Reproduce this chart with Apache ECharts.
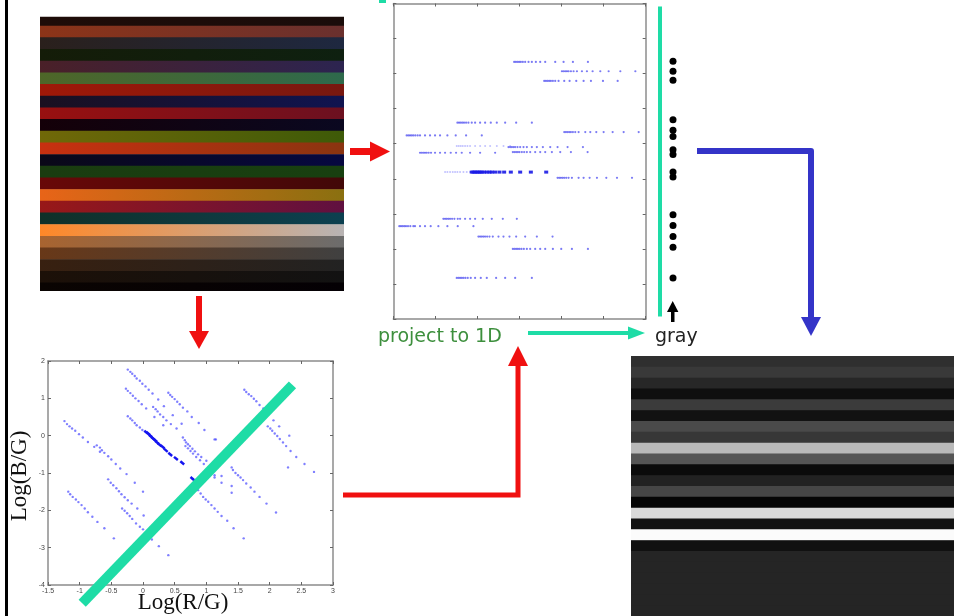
<!DOCTYPE html>
<html>
<head>
<meta charset="utf-8">
<title>Log chromaticity projection to gray</title>
<script src="https://cdn.jsdelivr.net/npm/echarts@6.0.0/dist/echarts.min.js"></script>
<style>
  html, body { margin: 0; padding: 0; background: #fff; }
  #chart { width: 954px; height: 616px; }
</style>
</head>
<body>
<div id="chart"></div>
<script>
  // colour test image: one stripe per row, left edge and right edge colour
  var stripeLeft = ['#1e0c08', '#8c3418', '#2a201c', '#141c08', '#4a2028', '#4e6628', '#a01808', '#1a1020',
    '#981010', '#140008', '#706808', '#c83010', '#0a0818', '#1a3c10', '#680808', '#e86418',
    '#981818', '#103028', '#ff8828', '#a86430', '#683818', '#382010', '#1c1008', '#0a0402'];
  var stripeRight = ['#1a0c0a', '#6a302e', '#1e2840', '#0e2010', '#2c2450', '#2e6a4c', '#781810', '#101450',
    '#6c1020', '#0a0820', '#3e5a08', '#8a3410', '#060840', '#184010', '#420808', '#8a7010',
    '#601040', '#0c4050', '#b8b4b4', '#6c6c6c', '#404040', '#222222', '#121212', '#040004'];

  // resulting gray image
  var grayLevels = ['#2f2f2f', '#393939', '#272727', '#0f0f0f', '#3b3b3b', '#121212', '#4a4a4a', '#373737',
    '#b9b9b9', '#555555', '#0b0b0b', '#222222', '#464646', '#060606', '#d9d9d9', '#121212',
    '#fbfbfb', '#111111', '#252525', '#252525', '#252525', '#252525', '#252525', '#252525'];

  // log(R/G), log(B/G) points
  var logPoints = [
    [-1.24, 0.39], [-1.20, 0.31], [-1.16, 0.25], [-1.12, 0.19], [-1.07, 0.13], [-1.01, 0.04], [-0.95, -0.05], [-0.87, -0.17], [-0.77, -0.30], [-0.68, -0.43],
    [-0.73, -0.26], [-0.68, -0.32], [-0.65, -0.39], [-0.61, -0.46], [-0.55, -0.55], [-0.50, -0.64], [-0.43, -0.76], [-0.36, -0.88], [-0.26, -1.03], [-0.13, -1.26],
    [-0.55, -1.17], [-0.51, -1.26], [-0.47, -1.33], [-0.42, -1.41], [-0.38, -1.49], [-0.34, -1.57], [-0.29, -1.65], [-0.24, -1.73], [-0.18, -1.82], [-0.09, -1.95], [0.01, -2.14],
    [-1.18, -1.50], [-1.15, -1.57], [-1.11, -1.64], [-1.06, -1.71], [-1.02, -1.78], [-0.97, -1.86], [-0.92, -1.95], [-0.87, -2.05], [-0.80, -2.17], [-0.72, -2.31], [-0.61, -2.48], [-0.46, -2.75],
    [-0.33, -1.95], [-0.29, -2.01], [-0.25, -2.08], [-0.21, -2.15], [-0.17, -2.23], [-0.11, -2.35], [-0.05, -2.44], [0.00, -2.51], [0.14, -2.78], [0.25, -2.96], [0.40, -3.20],
    [0.00, -1.50],
    [-0.24, 1.77], [-0.20, 1.71], [-0.17, 1.66], [-0.13, 1.60], [-0.10, 1.53], [-0.05, 1.47], [-0.01, 1.39], [0.04, 1.32], [0.09, 1.23], [0.15, 1.13], [0.24, 0.97], [0.33, 0.79], [0.47, 0.55], [0.61, 0.32],
    [-0.27, 1.26], [-0.24, 1.20], [-0.20, 1.14], [-0.16, 1.07], [-0.12, 1.00], [-0.07, 0.93], [-0.02, 0.84], [0.05, 0.73], [0.18, 0.50], [0.32, 0.28],
    [0.40, 1.15], [0.43, 1.09], [0.46, 1.04], [0.50, 0.98], [0.54, 0.91], [0.58, 0.84], [0.63, 0.75], [0.70, 0.65], [0.77, 0.50], [0.88, 0.34], [0.97, 0.15], [1.13, -0.10],
    [0.16, 0.77], [0.20, 0.71], [0.23, 0.65], [0.27, 0.57], [0.32, 0.50], [0.37, 0.41], [0.44, 0.31], [0.53, 0.19],
    [-0.24, 0.52], [-0.20, 0.46], [-0.17, 0.41], [-0.13, 0.34], [-0.10, 0.28], [-0.05, 0.22], [-0.01, 0.15],
    [0.63, -0.05], [0.66, -0.12], [0.68, -0.18], [0.71, -0.23], [0.74, -0.28], [0.78, -0.35], [0.82, -0.42], [0.87, -0.50], [0.92, -0.57], [1.00, -0.67], [1.08, -0.82],
    [0.67, -0.28], [0.71, -0.34], [0.75, -0.41], [0.79, -0.48], [0.84, -0.57], [0.90, -0.66], [0.96, -0.76], [1.04, -0.91], [1.13, -1.06],
    [1.60, 1.23], [1.63, 1.17], [1.67, 1.11], [1.71, 1.06], [1.75, 0.99], [1.79, 0.92], [1.84, 0.82], [1.90, 0.73], [1.97, 0.57], [2.06, 0.41],
    [1.97, 0.25], [2.01, 0.19], [2.04, 0.13], [2.08, 0.06], [2.12, -0.01], [2.16, -0.09], [2.21, -0.18], [2.26, -0.28], [2.33, -0.41], [2.42, -0.57], [2.55, -0.76], [2.70, -0.97],
    [2.15, 0.25], [2.31, 0.00], [2.29, -0.85],
    [1.40, -0.85], [1.42, -0.92], [1.46, -1.00], [1.50, -1.06], [1.54, -1.12], [1.58, -1.19], [1.63, -1.28], [1.70, -1.39], [1.76, -1.50], [1.84, -1.64], [1.95, -1.82], [2.10, -2.06],
    [0.79, -1.17], [0.84, -1.33], [0.87, -1.46], [0.91, -1.55], [0.95, -1.64], [0.99, -1.71], [1.03, -1.77], [1.08, -1.86], [1.13, -1.95], [1.18, -2.04], [1.24, -2.15], [1.33, -2.28], [1.43, -2.48], [1.59, -2.75],
    [1.13, -1.12], [1.24, -1.08], [1.24, -1.26], [1.40, -1.35], [1.40, -1.53], [1.15, -0.10]
  ];
  var logBold = [[0.05, 0.09], [0.08, 0.06], [0.11, 0.01], [0.13, -0.03], [0.16, -0.08], [0.19, -0.12], [0.22, -0.18],
    [0.26, -0.24], [0.31, -0.30], [0.36, -0.39], [0.43, -0.50], [0.52, -0.61], [0.62, -0.73], [0.78, -1.15]];

  // projection direction drawn across the log plot
  var projLine = [[-0.96, -4.49], [2.36, 1.36]];

  // rotated plot: one row per stripe (axis units, no labels shown)
  var projRowY = [175, 203, 232, 357, 385, 395, 430, 447, 445, 522, 645, 667, 698, 735, 822];
  var projRowX = [
    [362, 367, 372, 377, 382, 388, 395, 405, 415, 427, 440, 455, 485, 510, 538, 583],
    [505, 510, 515, 520, 525, 532, 540, 550, 565, 580, 597, 620, 645, 680, 725],
    [452, 457, 462, 467, 472, 478, 485, 495, 512, 528, 548, 570, 592, 628, 672],
    [192, 197, 202, 207, 212, 218, 225, 235, 245, 260, 275, 292, 310, 335, 368, 415],
    [512, 517, 522, 527, 532, 538, 545, 555, 575, 590, 608, 630, 657, 690, 735],
    [40, 45, 50, 55, 60, 66, 73, 80, 95, 110, 125, 140, 162, 187, 218, 265],
    [345, 350, 355, 360, 365, 372, 380, 390, 400, 415, 430, 448, 470, 492, 522, 568],
    [80, 85, 90, 95, 100, 106, 113, 125, 140, 155, 172, 188, 205, 230, 260, 305],
    [358, 363, 368, 373, 378, 385, 392, 400, 410, 425, 440, 455, 475, 500, 532, 582],
    [492, 497, 502, 507, 512, 518, 525, 535, 555, 570, 588, 610, 638, 670, 715],
    [150, 155, 160, 165, 170, 176, 183, 193, 200, 215, 230, 245, 268, 295, 328, 370],
    [18, 23, 28, 33, 38, 44, 51, 60, 65, 80, 95, 112, 135, 162, 193, 240],
    [255, 260, 265, 270, 275, 281, 288, 298, 315, 330, 348, 368, 395, 430, 477],
    [358, 363, 368, 373, 378, 384, 391, 400, 410, 425, 440, 455, 478, 503, 535, 583],
    [190, 195, 200, 205, 210, 216, 223, 232, 245, 262, 280, 308, 335, 365, 415]
  ];
  var projFaintY = [427, 505];
  var projFaintX = [
    [190, 196, 202, 208, 215, 222, 230, 245, 260, 275, 290, 310, 330, 350],
    [155, 162, 170, 178, 185, 192, 200, 210, 220, 230]
  ];
  var projBoldY = 505;
  var projBoldX = [235, 240, 245, 250, 255, 260, 265, 272, 280, 288, 295, 305, 318, 332, 352, 380, 412, 458];

  // 1D gray values (same vertical units as the rotated plot)
  var grayDots = [173, 203, 230, 348, 380, 398, 438, 452, 505, 520, 633, 665, 698, 730, 822];

  var chart = echarts.init(document.getElementById('chart'));

  function rowsToPoints(ys, xs) {
    var out = [];
    ys.forEach(function (y, r) {
      xs[r].forEach(function (x) { out.push([x, y]); });
    });
    return out;
  }

  function stripeRender(fillFor) {
    return function (params, api) {
      var i = api.value(0);
      var a = api.coord([0, i]);
      var b = api.coord([1, i + 1]);
      var cs = params.coordSys;
      var shape = echarts.graphic.clipRectByRect(
        {x: a[0], y: a[1], width: b[0] - a[0], height: b[1] - a[1] + 0.6},
        {x: cs.x, y: cs.y, width: cs.width, height: cs.height}
      );
      if (!shape) return;
      return {type: 'rect', shape: shape, style: {fill: fillFor(i), stroke: null}};
    };
  }

  var hidden = {show: false};
  var boxLine = {show: true, onZero: false, lineStyle: {color: '#8c8c8c', width: 1.5}};
  var inTick = {show: true, inside: true, length: 3, lineStyle: {color: '#666'}};
  var smallLabel = {fontSize: 7, color: '#444', fontFamily: 'Liberation Sans', margin: 3};

  var option = {
    backgroundColor: '#fff',
    animation: false,
    grid: [
      {left: 40, top: 16.7, width: 304, height: 274.3},
      {left: 48, top: 361, width: 285, height: 224},
      {left: 393.3, top: 3.5, width: 252.4, height: 315.5},
      {left: 666, top: 3.5, width: 14, height: 315.5},
      {left: 631, top: 356, width: 323, height: 263, show: true, backgroundColor: '#252525', borderWidth: 0}
    ],
    xAxis: [
      {gridIndex: 0, type: 'value', min: 0, max: 1, show: false},
      {gridIndex: 1, type: 'value', min: -1.5, max: 3, interval: 0.5, position: 'bottom',
        axisLine: boxLine, axisTick: inTick, splitLine: hidden,
        axisLabel: Object.assign({showMinLabel: true, showMaxLabel: true}, smallLabel)},
      {gridIndex: 1, type: 'value', min: -1.5, max: 3, interval: 0.5, position: 'top',
        axisLine: boxLine, axisTick: inTick, splitLine: hidden, axisLabel: hidden},
      {gridIndex: 2, type: 'value', min: 0, max: 756, interval: 126, position: 'bottom',
        axisLine: boxLine, axisTick: inTick, splitLine: hidden, axisLabel: hidden},
      {gridIndex: 2, type: 'value', min: 0, max: 756, interval: 126, position: 'top',
        axisLine: boxLine, axisTick: inTick, splitLine: hidden, axisLabel: hidden},
      {gridIndex: 3, type: 'value', min: 0, max: 1, show: false},
      {gridIndex: 4, type: 'value', min: 0, max: 1, show: false}
    ],
    yAxis: [
      {gridIndex: 0, type: 'value', min: 0.23, max: 23.72, inverse: true, show: false},
      {gridIndex: 1, type: 'value', min: -4, max: 2, interval: 1, position: 'left',
        axisLine: boxLine, axisTick: inTick, splitLine: hidden,
        axisLabel: Object.assign({showMinLabel: true, showMaxLabel: true}, smallLabel)},
      {gridIndex: 1, type: 'value', min: -4, max: 2, interval: 1, position: 'right',
        axisLine: boxLine, axisTick: inTick, splitLine: hidden, axisLabel: hidden},
      {gridIndex: 2, type: 'value', min: 0, max: 945, interval: 105, inverse: true, position: 'left',
        axisLine: boxLine, axisTick: inTick, splitLine: hidden, axisLabel: hidden},
      {gridIndex: 2, type: 'value', min: 0, max: 945, interval: 105, inverse: true, position: 'right',
        axisLine: boxLine, axisTick: inTick, splitLine: hidden, axisLabel: hidden},
      {gridIndex: 3, type: 'value', min: 0, max: 945, inverse: true, show: false},
      {gridIndex: 4, type: 'value', min: 0, max: 24, inverse: true, show: false}
    ],
    series: [
      {
        type: 'custom', xAxisIndex: 0, yAxisIndex: 0,
        data: stripeLeft.map(function (c, i) { return [i]; }),
        renderItem: stripeRender(function (i) {
          return new echarts.graphic.LinearGradient(0, 0, 1, 0, [
            {offset: 0, color: stripeLeft[i]}, {offset: 1, color: stripeRight[i]}
          ]);
        })
      },
      {
        type: 'scatter', xAxisIndex: 1, yAxisIndex: 1, data: logPoints,
        symbolSize: 2.4, itemStyle: {color: '#3a3aff', opacity: 0.65}
      },
      {
        type: 'scatter', xAxisIndex: 1, yAxisIndex: 1, data: logBold,
        symbol: 'rect', symbolSize: [5, 2.5], symbolRotate: -40, itemStyle: {color: '#1414f0', opacity: 1}
      },
      {
        type: 'line', xAxisIndex: 1, yAxisIndex: 1, data: projLine, z: 4,
        clip: false, symbol: 'none', lineStyle: {color: '#1edca6', width: 10}
      },
      {
        type: 'scatter', xAxisIndex: 3, yAxisIndex: 3, data: rowsToPoints(projRowY, projRowX),
        symbolSize: 2.2, itemStyle: {color: '#3232ee', opacity: 0.65}
      },
      {
        type: 'scatter', xAxisIndex: 3, yAxisIndex: 3, data: rowsToPoints(projFaintY, projFaintX),
        symbolSize: 2, itemStyle: {color: '#6a6aff', opacity: 0.4}
      },
      {
        type: 'scatter', xAxisIndex: 3, yAxisIndex: 3,
        data: projBoldX.map(function (x) { return [x, projBoldY]; }),
        symbol: 'rect', symbolSize: [4, 3], itemStyle: {color: '#1a1ae6', opacity: 0.9}
      },
      {
        type: 'scatter', xAxisIndex: 5, yAxisIndex: 5,
        data: grayDots.map(function (y) { return [0.5, y]; }),
        symbolSize: 7, itemStyle: {color: '#000', opacity: 1}
      },
      {
        type: 'custom', xAxisIndex: 6, yAxisIndex: 6,
        data: grayLevels.map(function (c, i) { return [i]; }),
        renderItem: stripeRender(function (i) { return grayLevels[i]; })
      }
    ],
    graphic: {elements: [
      {type: 'rect', shape: {x: 5, y: 0, width: 3, height: 616}, style: {fill: '#000'}},
      {type: 'rect', shape: {x: 379, y: 0, width: 7, height: 3}, style: {fill: '#1edca6'}},
      // red arrow into rotated plot
      {type: 'rect', shape: {x: 350, y: 148, width: 21, height: 7}, style: {fill: '#f01010'}},
      {type: 'polygon', shape: {points: [[370, 141.5], [390, 151.5], [370, 161.5]]}, style: {fill: '#f01010'}},
      // red arrow down to log plot
      {type: 'rect', shape: {x: 196, y: 296, width: 6, height: 36}, style: {fill: '#f01010'}},
      {type: 'polygon', shape: {points: [[189, 331], [199, 349], [209, 331]]}, style: {fill: '#f01010'}},
      // red elbow arrow from log plot
      {type: 'polyline', shape: {points: [[343, 495], [518, 495], [518, 364]]},
        style: {stroke: '#f01010', lineWidth: 5, fill: null}},
      {type: 'polygon', shape: {points: [[508, 366], [518, 346], [528, 366]]}, style: {fill: '#f01010'}},
      // blue elbow arrow to gray image
      {type: 'polyline', shape: {points: [[697, 151], [811, 151], [811, 318]]},
        style: {stroke: '#3434c8', lineWidth: 6, fill: null, lineJoin: 'round'}},
      {type: 'polygon', shape: {points: [[801, 317], [811, 336], [821, 317]]}, style: {fill: '#3434c8'}},
      // 1D axis
      {type: 'rect', shape: {x: 658, y: 6.5, width: 4, height: 310}, style: {fill: '#1edca6'}},
      {type: 'rect', shape: {x: 671, y: 311, width: 3.5, height: 11}, style: {fill: '#000'}},
      {type: 'polygon', shape: {points: [[667, 312], [672.7, 301], [678.4, 312]]}, style: {fill: '#000'}},
      // teal arrow project -> gray
      {type: 'rect', shape: {x: 528, y: 331, width: 102, height: 4}, style: {fill: '#1edca6'}},
      {type: 'polygon', shape: {points: [[628, 326.5], [645, 333], [628, 339.5]]}, style: {fill: '#1edca6'}},
      {type: 'text', x: 378, y: 337.5, style: {text: 'project to 1D', fill: '#3d8f3d',
        font: '19px "DejaVu Sans"', verticalAlign: 'middle'}},
      {type: 'text', x: 655, y: 337.5, style: {text: 'gray', fill: '#222',
        font: '19px "DejaVu Sans"', verticalAlign: 'middle'}},
      {type: 'text', x: 20, y: 476, rotation: Math.PI / 2, style: {text: 'Log(B/G)', fill: '#111',
        font: '23px "Liberation Serif"', align: 'center', verticalAlign: 'middle'}},
      {type: 'text', x: 183, y: 603, style: {text: 'Log(R/G)', fill: '#111',
        font: '23px "Liberation Serif"', align: 'center', verticalAlign: 'middle'}}
    ]}
  };

  chart.setOption(option);
</script>
</body>
</html>
